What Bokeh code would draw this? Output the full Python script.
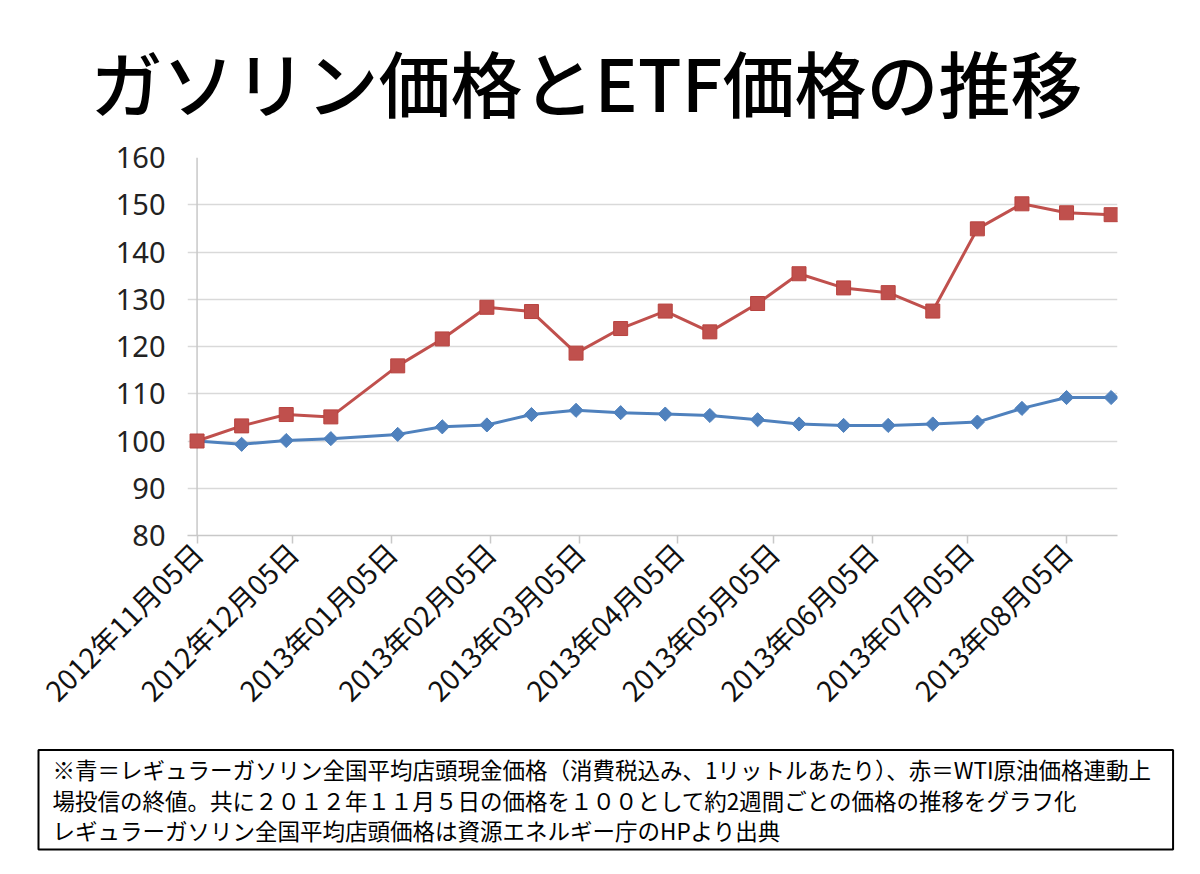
import pandas as pd
from bokeh.plotting import figure
from bokeh.models import Range1d, FixedTicker, Title, ColumnDataSource, Span
from bokeh.embed import file_html
from bokeh.resources import INLINE

# ---- data ----
dates = ["2012-11-05", "2012-11-19", "2012-12-03", "2012-12-17", "2013-01-07",
         "2013-01-21", "2013-02-04", "2013-02-18", "2013-03-04", "2013-03-18",
         "2013-04-01", "2013-04-15", "2013-04-30", "2013-05-13", "2013-05-27",
         "2013-06-10", "2013-06-24", "2013-07-08", "2013-07-22", "2013-08-05",
         "2013-08-19"]
gasoline = [100, 99.3, 100.1, 100.5, 101.4, 103.0, 103.4, 105.6, 106.5, 106.0,
            105.7, 105.4, 104.5, 103.6, 103.3, 103.3, 103.6, 104.0, 106.9, 109.2,
            109.2]
etf = [100, 103.2, 105.6, 105.1, 115.9, 121.6, 128.3, 127.4, 118.6, 123.8,
       127.5, 123.1, 129.1, 135.4, 132.4, 131.4, 127.5, 144.9, 150.2, 148.3,
       147.9]
tick_dates = ["2012-11-05", "2012-12-05", "2013-01-05", "2013-02-05", "2013-03-05",
              "2013-04-05", "2013-05-05", "2013-06-05", "2013-07-05", "2013-08-05"]
tick_labels = ["2012年11月05日", "2012年12月05日", "2013年01月05日", "2013年02月05日",
               "2013年03月05日", "2013年04月05日", "2013年05月05日", "2013年06月05日",
               "2013年07月05日", "2013年08月05日"]
y_ticks = [80, 90, 100, 110, 120, 130, 140, 150, 160]

title_text = "ガソリン価格とETF価格の推移"
note_lines = [
    "※青＝レギュラーガソリン全国平均店頭現金価格（消費税込み、1リットルあたり）、赤＝WTI原油価格連動上",
    "場投信の終値。共に２０１２年１１月５日の価格を１００として約2週間ごとの価格の推移をグラフ化",
    "レギュラーガソリン全国平均店頭価格は資源エネルギー庁のHPより出典",
]

JP = "Noto Sans CJK JP"
blue = "#4F81BD"
red = "#C0504D"


def ms(d):
    return int(pd.Timestamp(d).value // 10**6)


x = pd.to_datetime(dates)
src = ColumnDataSource(dict(x=x, gas=gasoline, etf=etf))

x_start = pd.Timestamp(dates[0]) - pd.Timedelta(days=3)
x_end = pd.Timestamp(dates[-1]) + pd.Timedelta(days=2)

p = figure(width=1200, height=874, x_axis_type="datetime",
           x_range=Range1d(x_start, x_end), y_range=Range1d(80, 160),
           output_backend="svg", toolbar_location=None,
           min_border_left=187, min_border_right=83,
           min_border_top=157, min_border_bottom=337)
p.outline_line_color = None
p.background_fill_color = "white"
p.border_fill_color = "white"

# main title
p.title.text = title_text
p.title.text_font = "'Noto Sans CJK JP Medium', 'Noto Sans CJK JP'"
p.title.text_font_size = "72px"
p.title.text_font_style = "normal"
p.title.text_color = "#000000"
p.title.align = "left"
p.title.offset = -97
p.title.standoff = 50

p.xgrid.visible = False
p.ygrid.grid_line_color = "#D9D9D9"
p.ygrid.grid_line_width = 1.5
p.ygrid.ticker = FixedTicker(ticks=y_ticks)

p.yaxis.ticker = FixedTicker(ticks=y_ticks)
p.yaxis.axis_line_color = None
p.yaxis.major_tick_line_color = None
p.yaxis.minor_tick_line_color = None
p.yaxis.major_label_text_font = "Noto Sans"
p.yaxis.major_label_text_font_size = "29px"
p.yaxis.major_label_text_color = "#222222"
p.yaxis.major_label_standoff = 16

p.xaxis.ticker = FixedTicker(ticks=[ms(d) for d in tick_dates])
p.xaxis.major_label_overrides = {ms(d): lab for d, lab in zip(tick_dates, tick_labels)}
p.xaxis.axis_line_color = "#C8C8C8"
p.xaxis.axis_line_width = 1.5
p.xaxis.major_tick_line_color = "#C8C8C8"
p.xaxis.major_tick_line_width = 1.5
p.xaxis.major_tick_out = 8
p.xaxis.major_tick_in = 0
p.xaxis.minor_tick_line_color = None
p.xaxis.major_label_orientation = 0.785398
p.xaxis.major_label_text_font = JP
p.xaxis.major_label_text_font_size = "28px"
p.xaxis.major_label_text_color = "#111111"
p.xaxis.major_label_standoff = 4

# vertical value-axis line at the first date
p.add_layout(Span(location=ms(dates[0]), dimension="height", line_color="#C8C8C8",
                  line_width=1.5, level="underlay"))

p.line("x", "gas", source=src, line_color=blue, line_width=3)
p.scatter("x", "gas", source=src, marker="square", angle=0.785398, size=10,
          fill_color=blue, line_color=blue)
p.line("x", "etf", source=src, line_color=red, line_width=3)
p.scatter("x", "etf", source=src, marker="square", size=14, fill_color=red,
          line_color="#B8433F")

# note box below the chart
note = Title(text="\n".join(note_lines), align="left", offset=-149, standoff=47,
             vertical_align="top",
             text_font=JP, text_font_size="22.5px", text_font_style="normal",
             text_color="black", text_line_height=0.96,
             border_line_color="black", border_line_width=2,
             background_fill_color="white",
             padding=dict(left=14, right=22, top=3, bottom=3))
p.add_layout(note, "below")

open("out.html", "w").write(file_html(p, INLINE))
